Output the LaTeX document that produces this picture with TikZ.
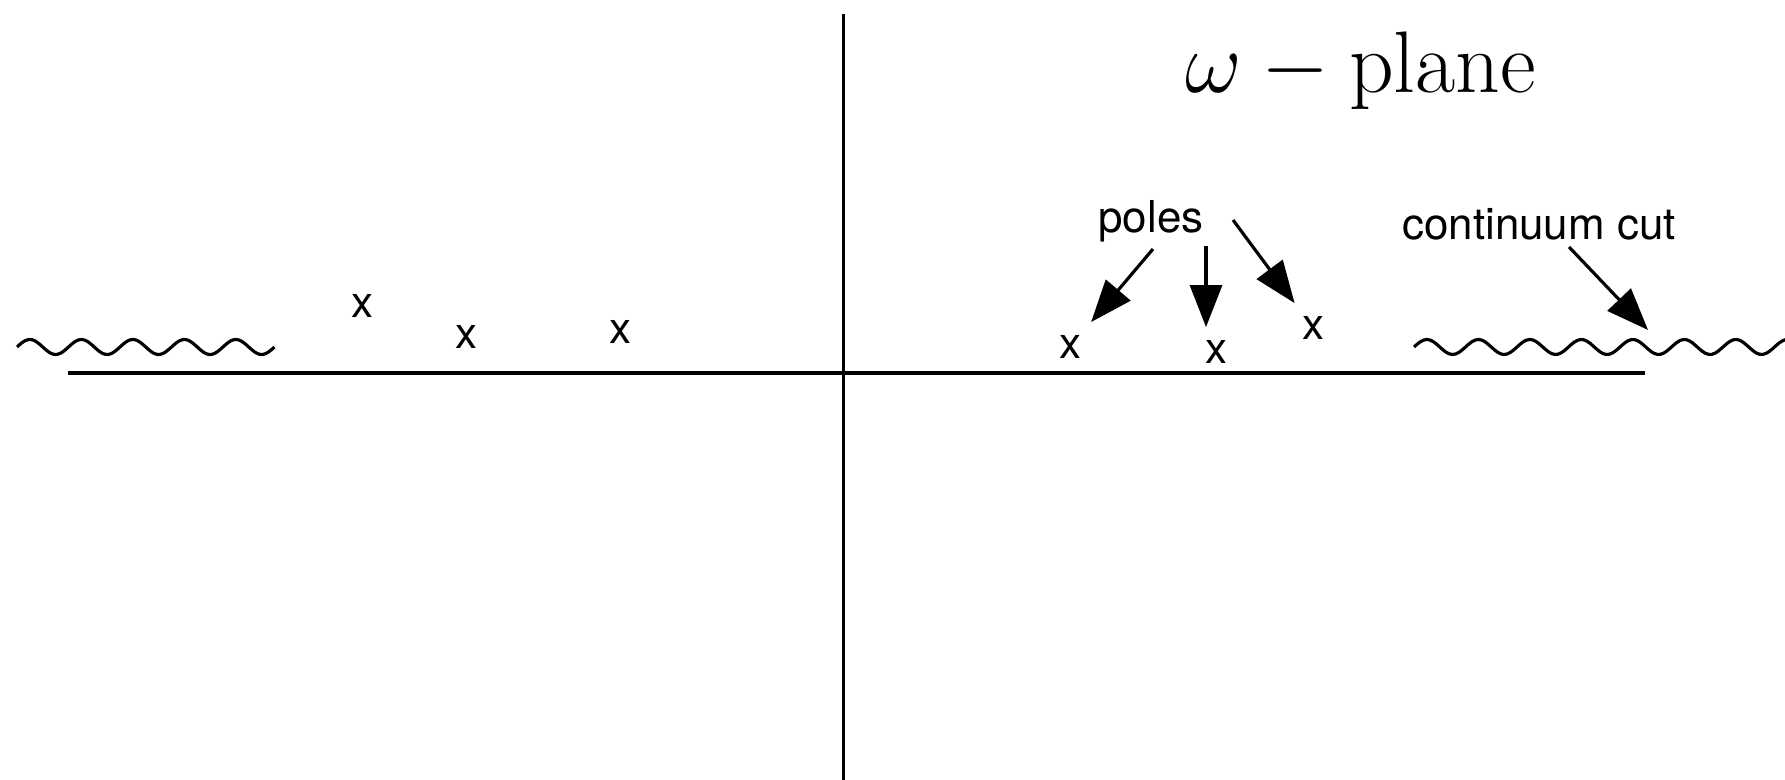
\documentclass[tikz,border=0pt]{standalone}
\usepackage{fontspec}
\newfontfamily\helv{TeX Gyre Heros}
\usetikzlibrary{arrows.meta}

\begin{document}
\begin{tikzpicture}[thick, >={Triangle[length=4.2mm, width=3.2mm]},
    pole/.style={font=\helv\fontsize{12.5}{15}\selectfont, inner sep=0.12cm},
    lbl/.style={font=\helv\fontsize{12.5}{15}\selectfont},
    cut/.style={line width=0.9pt, smooth, samples=120},
    pointer/.style={->, line width=0.9pt}]
        \useasboundingbox (0,0) rectangle (17.85,7.80);

        % Axes
        \draw[line width=1pt] (8.435,0) -- (8.435,7.66);
        \draw[line width=1pt] (0.68,4.07) -- (16.45,4.07);

        % Cuts
        \draw[cut] plot[domain=0.17:2.745] (\x, {4.33 + 0.075*sin(360*(\x-0.17)/0.515)});
        \draw[cut] plot[domain=14.14:17.95] (\x, {4.33 + 0.075*sin(360*(\x-14.14)/0.515)});

        % Poles
        \node[pole] (L1) at (3.62, 4.74) {x};
        \node[pole] (L2) at (4.66, 4.43) {x};
        \node[pole] (L3) at (6.20, 4.48) {x};
        \node[pole] (R1) at (10.70, 4.33) {x};
        \node[pole] (R2) at (12.16, 4.28) {x};
        \node[pole] (R3) at (13.13, 4.52) {x};

        % Labels
        \node[anchor=base] (T) at (13.61, 6.87) {\fontsize{24.88}{30}\selectfont $\omega - \mathrm{plane}$};
        \node[lbl] (P) at (11.51, 5.59) {poles};
        \node[lbl] (K) at (15.39, 5.56) {continuum cut};
        \coordinate (a1) at (11.53, 5.31);
        \coordinate (a2) at (12.06, 5.34);
        \coordinate (a3) at (12.33, 5.60);
        \coordinate (k1) at (15.69, 5.33);
        \coordinate (k2) at (16.48, 4.50);

        % Arrows
        \draw[pointer] (a1) -- (R1);
        \draw[pointer] (a2) -- (a2 |- R2.north);
        \draw[pointer] (a3) -- (R3);
        \draw[pointer] (k1) -- (k2);
    \end{tikzpicture}
\end{document}
